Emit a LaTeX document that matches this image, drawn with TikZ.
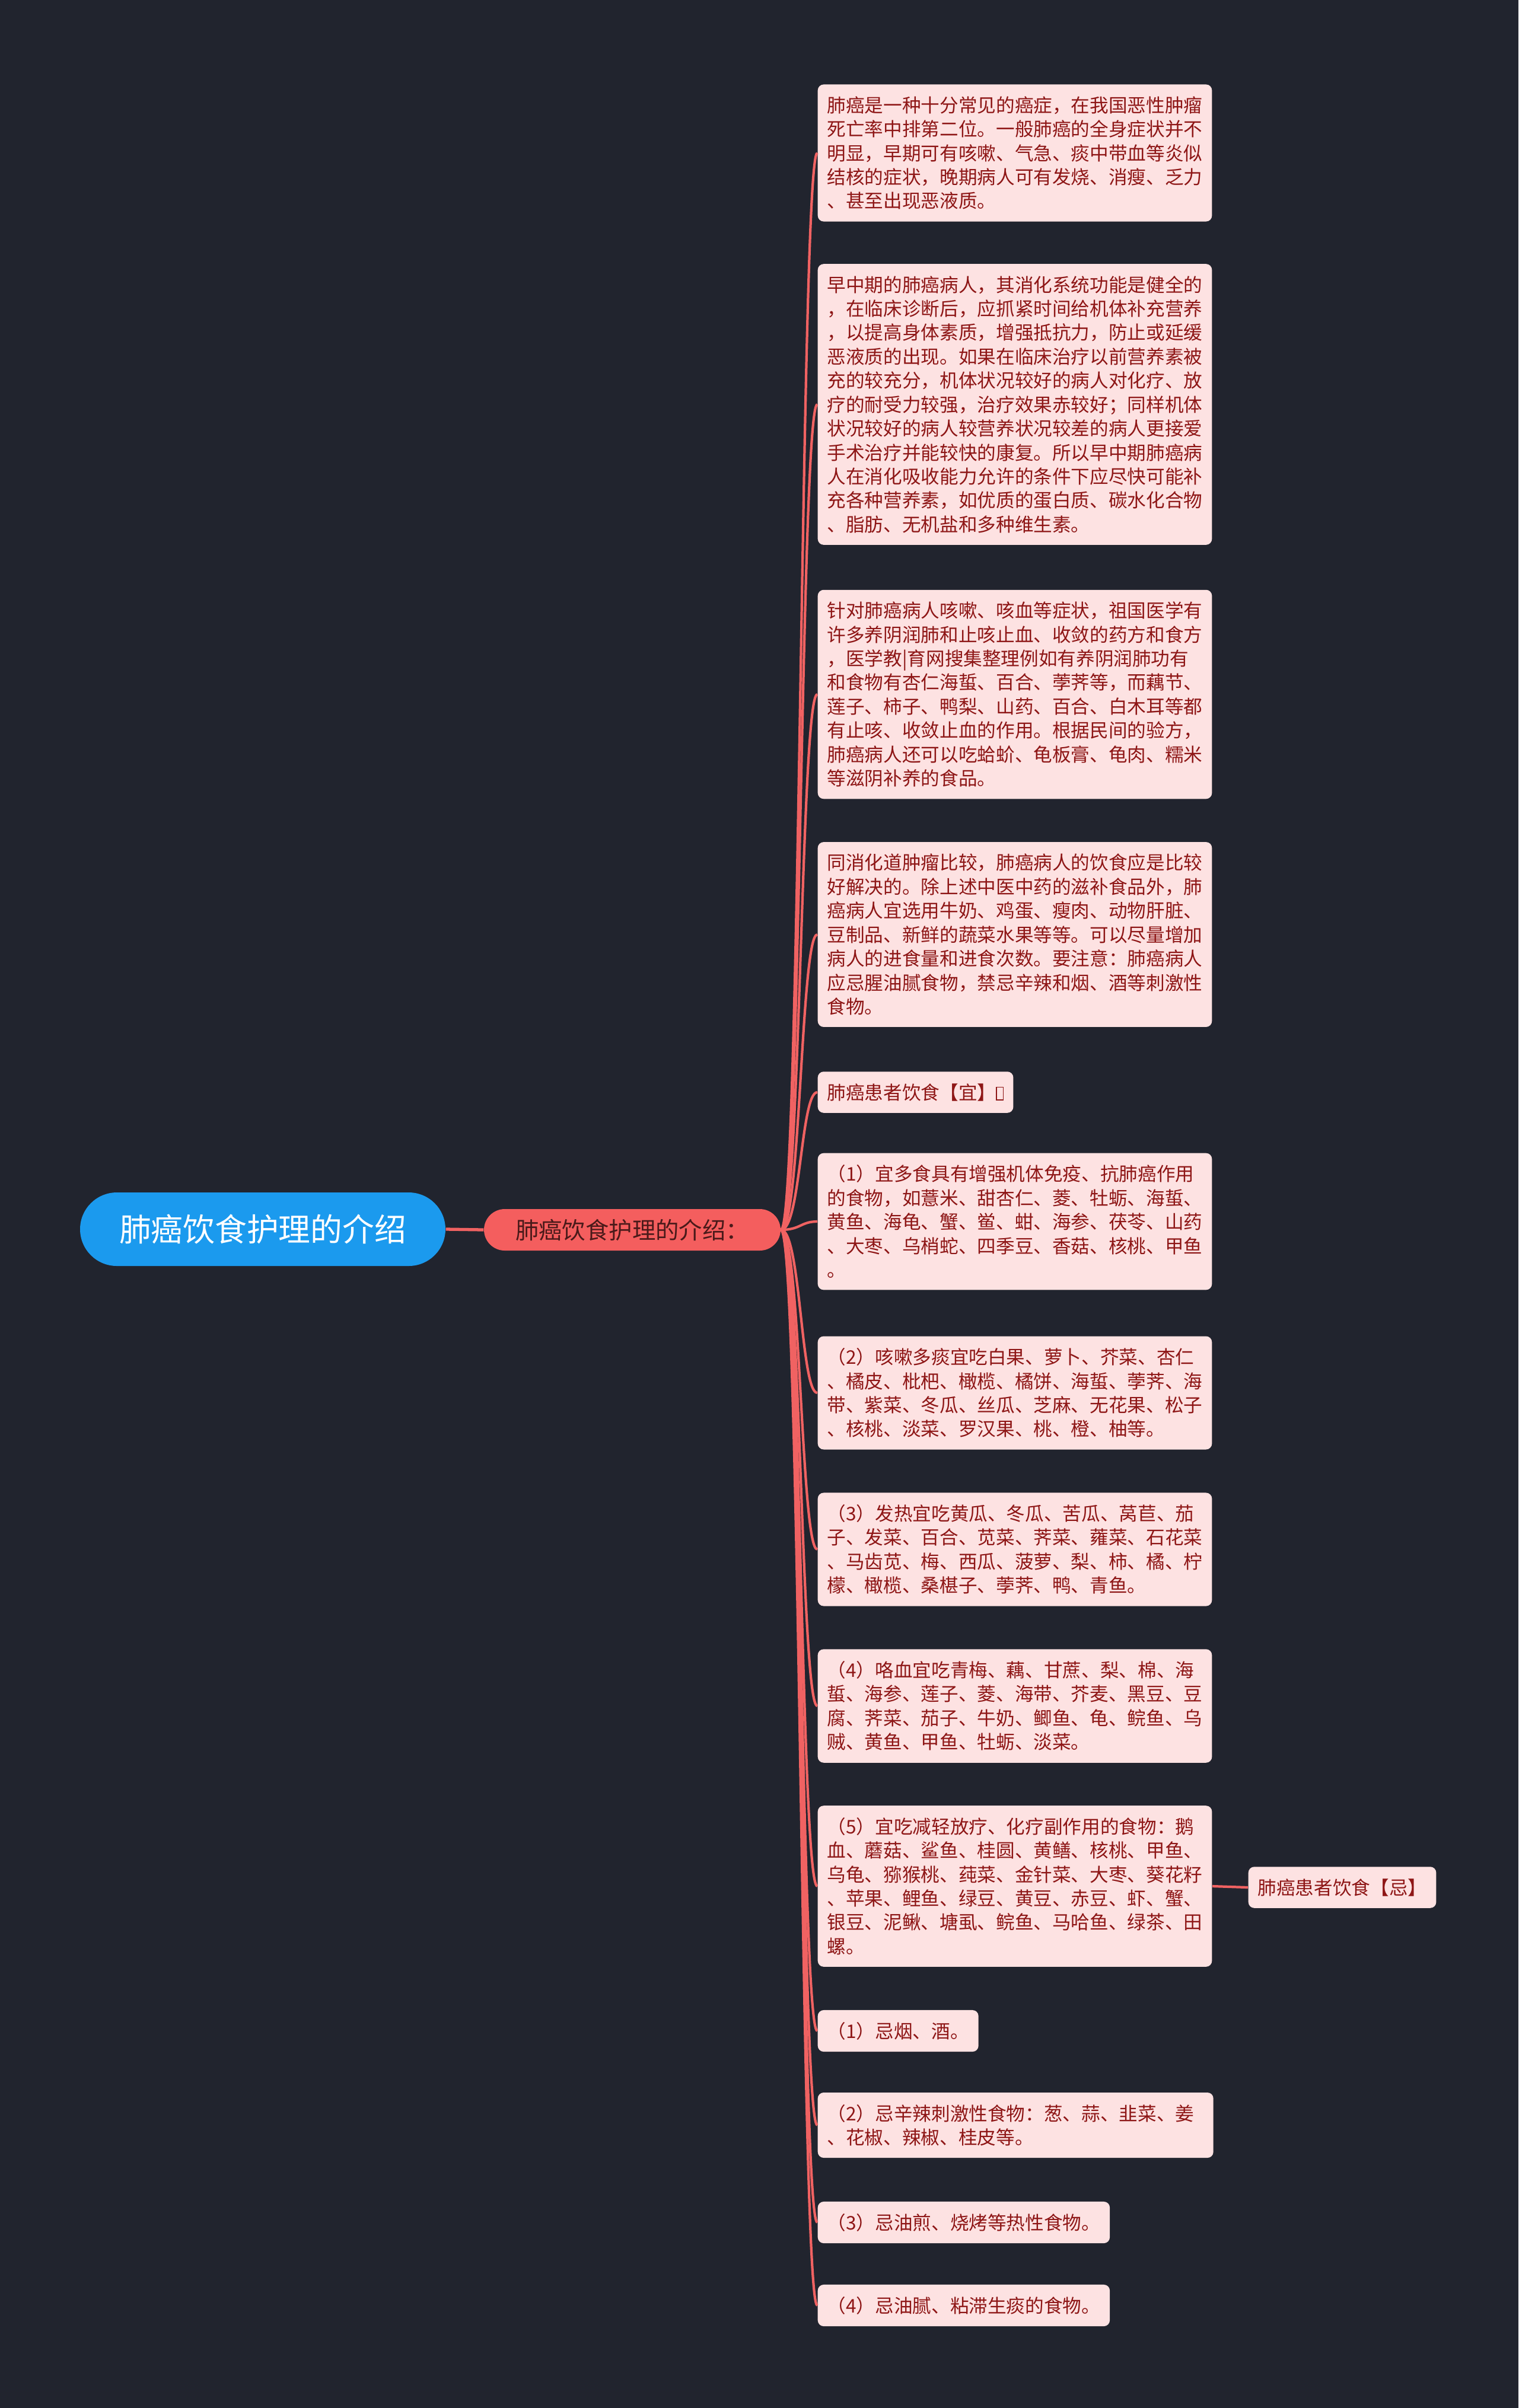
\documentclass[tikz,border=0pt]{standalone}
\usepackage{fontspec}
\setmainfont{Noto Sans CJK SC}
\definecolor{bgcol}{HTML}{21242E}
\definecolor{rootfill}{HTML}{1B9AEE}
\definecolor{subfill}{HTML}{F45E5E}
\definecolor{subtext}{HTML}{4A1A1A}
\definecolor{leaffill}{HTML}{FDE2E2}
\definecolor{leaftext}{HTML}{8E1616}
\definecolor{linkcol}{HTML}{F06262}
\newcommand{\tofu}{{\setlength{\fboxsep}{0pt}\setlength{\fboxrule}{0.5pt}\fbox{\rule{0pt}{0.62em}\hspace{0.3em}}}}
\tikzset{
  rootnode/.style={fill=rootfill, text=white, rounded corners=0.62cm,
    minimum width=6.16cm, minimum height=1.24cm, inner sep=0pt,
    font=\fontsize{15.3}{18}\selectfont},
  subnode/.style={fill=subfill, text=subtext, rounded corners=0.35cm,
    minimum width=5.0cm, minimum height=0.70cm, inner sep=0pt,
    font=\fontsize{11.2}{13}\selectfont},
  leaf/.style={fill=leaffill, text=leaftext, rounded corners=0.1cm,
    inner xsep=0.16cm, inner ysep=0.2cm, align=left, anchor=west,
    font=\fontsize{9}{11.5}\selectfont},
  link/.style={draw=linkcol, line width=1.2pt},
}
\begin{document}
\begin{tikzpicture}
% Hintergrund
\fill[bgcol] (0,0) rectangle (25.6,-40.61);
\useasboundingbox (0,0) rectangle (25.6,-40.61);
% Wurzel und Hauptzweig
\node[rootnode] (root) at (4.43,-20.73) {肺癌饮食护理的介绍};
\node[subnode] (n2) at (10.66,-20.74) {肺癌饮食护理的介绍：};
\coordinate (trunk) at (13.50,-20.74);
% Blaetter
\node[leaf] (b1) at (13.78,-2.58) {肺癌是一种十分常见的癌症，在我国恶性肿瘤\\死亡率中排第二位。一般肺癌的全身症状并不\\明显，早期可有咳嗽、气急、痰中带血等炎似\\结核的症状，晚期病人可有发烧、消瘦、乏力\\、甚至出现恶液质。};
\node[leaf] (b2) at (13.78,-6.82) {早中期的肺癌病人，其消化系统功能是健全的\\，在临床诊断后，应抓紧时间给机体补充营养\\，以提高身体素质，增强抵抗力，防止或延缓\\恶液质的出现。如果在临床治疗以前营养素被\\充的较充分，机体状况较好的病人对化疗、放\\疗的耐受力较强，治疗效果赤较好；同样机体\\状况较好的病人较营养状况较差的病人更接爱\\手术治疗并能较快的康复。所以早中期肺癌病\\人在消化吸收能力允许的条件下应尽快可能补\\充各种营养素，如优质的蛋白质、碳水化合物\\、脂肪、无机盐和多种维生素。};
\node[leaf] (b3) at (13.78,-11.71) {针对肺癌病人咳嗽、咳血等症状，祖国医学有\\许多养阴润肺和止咳止血、收敛的药方和食方\\，医学教|育网搜集整理例如有养阴润肺功有\\和食物有杏仁海蜇、百合、荸荠等，而藕节、\\莲子、柿子、鸭梨、山药、百合、白木耳等都\\有止咳、收敛止血的作用。根据民间的验方，\\肺癌病人还可以吃蛤蚧、龟板膏、龟肉、糯米\\等滋阴补养的食品。};
\node[leaf] (b4) at (13.78,-15.76) {同消化道肿瘤比较，肺癌病人的饮食应是比较\\好解决的。除上述中医中药的滋补食品外，肺\\癌病人宜选用牛奶、鸡蛋、瘦肉、动物肝脏、\\豆制品、新鲜的蔬菜水果等等。可以尽量增加\\病人的进食量和进食次数。要注意：肺癌病人\\应忌腥油腻食物，禁忌辛辣和烟、酒等刺激性\\食物。};
\node[leaf] (b5) at (13.78,-18.42) {肺癌患者饮食【宜】\tofu};
\node[leaf] (b6) at (13.78,-20.60) {（1）宜多食具有增强机体免疫、抗肺癌作用\\的食物，如薏米、甜杏仁、菱、牡蛎、海蜇、\\黄鱼、海龟、蟹、鲎、蚶、海参、茯苓、山药\\、大枣、乌梢蛇、四季豆、香菇、核桃、甲鱼\\。};
\node[leaf] (b7) at (13.78,-23.49) {（2）咳嗽多痰宜吃白果、萝卜、芥菜、杏仁\\、橘皮、枇杷、橄榄、橘饼、海蜇、荸荠、海\\带、紫菜、冬瓜、丝瓜、芝麻、无花果、松子\\、核桃、淡菜、罗汉果、桃、橙、柚等。};
\node[leaf] (b8) at (13.78,-26.13) {（3）发热宜吃黄瓜、冬瓜、苦瓜、莴苣、茄\\子、发菜、百合、苋菜、荠菜、蕹菜、石花菜\\、马齿苋、梅、西瓜、菠萝、梨、柿、橘、柠\\檬、橄榄、桑椹子、荸荠、鸭、青鱼。};
\node[leaf] (b9) at (13.78,-28.77) {（4）咯血宜吃青梅、藕、甘蔗、梨、棉、海\\蜇、海参、莲子、菱、海带、芥麦、黑豆、豆\\腐、荠菜、茄子、牛奶、鲫鱼、龟、鲩鱼、乌\\贼、黄鱼、甲鱼、牡蛎、淡菜。};
\node[leaf] (b10) at (13.78,-31.81) {（5）宜吃减轻放疗、化疗副作用的食物：鹅\\血、蘑菇、鲨鱼、桂圆、黄鳝、核桃、甲鱼、\\乌龟、猕猴桃、莼菜、金针菜、大枣、葵花籽\\、苹果、鲤鱼、绿豆、黄豆、赤豆、虾、蟹、\\银豆、泥鳅、塘虱、鲩鱼、马哈鱼、绿茶、田\\螺。};
\node[leaf] (b11) at (13.78,-34.25) {（1）忌烟、酒。};
\node[leaf, text width=6.35cm] (b12) at (13.78,-35.84) {（2）忌辛辣刺激性食物：葱、蒜、韭菜、姜\\、花椒、辣椒、桂皮等。};
\node[leaf] (b13) at (13.78,-37.48) {（3）忌油煎、烧烤等热性食物。};
\node[leaf] (b14) at (13.78,-38.88) {（4）忌油腻、粘滞生痰的食物。};
\node[leaf] (ji) at (21.04,-31.83) {肺癌患者饮食【忌】};
% Verbindungen
\draw[link, line width=1.5pt] (root.east) -- (n2.west);
\foreach \i in {1,...,14} {
    \draw[link] (n2.east) .. controls (trunk) and (trunk |- b\i.west) .. (b\i.west);
}
\draw[link] (b10.east) -- (ji.west);
\end{tikzpicture}
\end{document}
